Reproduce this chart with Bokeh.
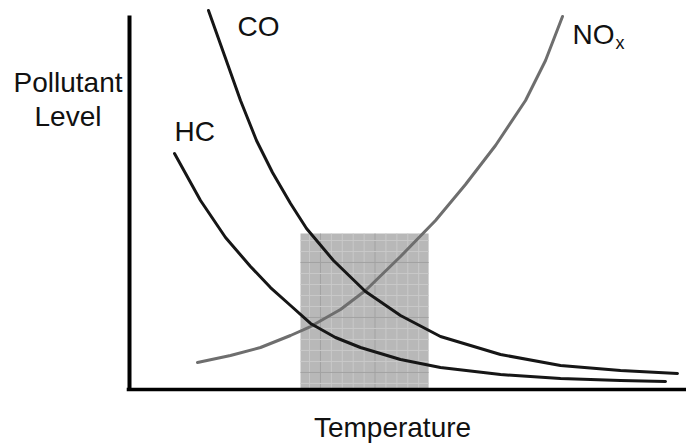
import numpy as np
from bokeh.plotting import figure
from bokeh.models import Range1d, Label
from bokeh.embed import file_html
from bokeh.resources import INLINE

# ---- data (arbitrary units: temperature 0-10, level 0-10)
co_x = [1.418, 1.706, 1.993, 2.280, 2.567, 2.891, 3.178, 3.662, 4.237, 4.865, 5.583, 6.661, 7.738, 8.815, 9.838]
co_y = [10.134, 8.930, 7.727, 6.658, 5.802, 4.973, 4.305, 3.449, 2.620, 1.979, 1.417, 0.936, 0.642, 0.508, 0.428]

hc_x = [0.808, 1.275, 1.724, 2.172, 2.531, 2.891, 3.250, 3.698, 4.147, 4.865, 5.583, 6.661, 7.738, 8.815, 9.623]
hc_y = [6.310, 5.053, 4.064, 3.289, 2.727, 2.246, 1.765, 1.390, 1.123, 0.802, 0.588, 0.401, 0.294, 0.241, 0.214]

nox_x = [1.221, 1.813, 2.352, 2.891, 3.250, 3.788, 4.237, 4.865, 5.494, 6.032, 6.571, 7.110, 7.469, 7.774]
nox_y = [0.722, 0.909, 1.123, 1.444, 1.684, 2.139, 2.647, 3.556, 4.519, 5.481, 6.524, 7.727, 8.797, 9.973]

window_x = [3.07, 5.37]   # optimal temperature window
window_top = 4.17

x_axis_label = "Temperature"
y_axis_label = ["Pollutant", "Level"]
FONT = "Liberation Sans"

p = figure(width=686, height=446, output_backend="svg", toolbar_location=None,
           x_range=Range1d(-2.316, 10.0), y_range=Range1d(-1.524, 10.401),
           x_axis_location=None, y_axis_location=None, min_border=0,
           outline_line_color=None, background_fill_color="white",
           border_fill_color="white")
p.grid.visible = False

# shaded window with fine grid
p.quad(left=[window_x[0]], right=[window_x[1]], bottom=[0], top=[window_top],
       fill_color="#b8b8b8", line_color=None)
dx, dy = 0.196, 0.294
gx = np.arange(window_x[0] + 0.162, window_x[1] - 0.05, dx)
gy = np.arange(window_top - 0.186, 0.05, -dy)
for i, xv in enumerate(gx):
    c = "#a2a2a2" if i % 5 == 1 else "#c9c9c9"
    p.segment(x0=[xv], y0=[0], x1=[xv], y1=[window_top], line_color=c, line_width=1)
for j, yv in enumerate(gy):
    c = "#a2a2a2" if j % 5 == 2 else "#c9c9c9"
    p.segment(x0=[window_x[0]], y0=[yv], x1=[window_x[1]], y1=[yv], line_color=c, line_width=1)

# curves
p.line(nox_x, nox_y, line_color="#6e6e6e", line_width=3, line_join="round", line_cap="round")
p.line(co_x, co_y, line_color="#161616", line_width=3, line_join="round", line_cap="round")
p.line(hc_x, hc_y, line_color="#161616", line_width=3, line_join="round", line_cap="round")

# axes lines
p.segment(x0=[0], y0=[-0.04], x1=[0], y1=[10.0], line_color="black", line_width=4)
p.segment(x0=[-0.05], y0=[0], x1=[10.2], y1=[0], line_color="black", line_width=3.5)

def lab(x, y, t, size="28px", align="left"):
    p.add_layout(Label(x=x, y=y, text=t, text_font=FONT, text_font_size=size,
                       text_color="#111111", text_align=align,
                       text_baseline="alphabetic"))

lab(-1.104, 8.208, y_axis_label[0], align="center")
lab(-1.104, 7.299, y_axis_label[1], align="center")
lab(4.722, -1.016, x_axis_label, align="center")
lab(0.808, 6.898, "HC")
lab(1.939, 9.706, "CO")
lab(7.953, 9.492, "NO")
lab(8.725, 9.278, "x", size="18px")

open("out.html", "w").write(file_html(p, INLINE))
